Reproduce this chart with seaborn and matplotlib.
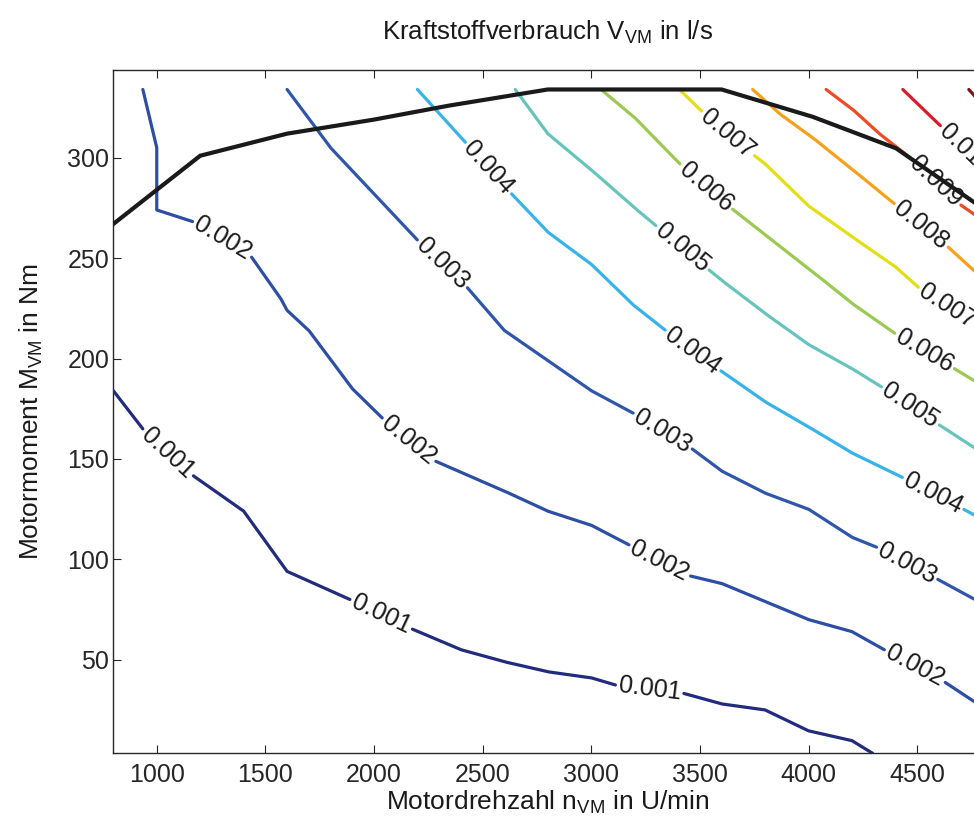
import numpy as np
import pandas as pd
import matplotlib
matplotlib.use("Agg")
import matplotlib.pyplot as plt
import seaborn as sns

# ---------------- data ----------------
levels = [0.001, 0.002, 0.003, 0.004, 0.005, 0.006, 0.007, 0.008, 0.009, 0.010, 0.011]

n_001 = [800, 950, 1150, 1400, 1600, 1910, 2160, 2400, 2600, 2800, 3000, 3140, 3400, 3600, 3800, 4000, 4200, 4295]
m_001 = [184, 163, 143, 124, 94, 79, 66, 55, 49, 44, 41, 36.5, 34, 28, 25, 14.6, 9.7, 3.4]

n_002 = [936, 1000, 1000, 1200, 1430, 1570, 1600, 1700, 1900, 2056, 2270, 2600, 2800, 3000, 3190, 3437, 3600, 3800, 4000, 4200, 4365, 4618, 4800]
m_002 = [334, 305, 274, 267, 251.5, 230, 224, 214, 185, 168.5, 149.5, 134, 124, 117, 106.3, 92.2, 88, 79, 70, 64, 54, 39.5, 26.5]

n_003 = [1600, 1800, 2000, 2209, 2424, 2600, 2800, 3000, 3207, 3452, 3600, 3800, 4000, 4200, 4326, 4587, 4800]
m_003 = [334, 305, 282, 258, 236, 214, 199, 184, 172, 156, 144, 133, 125, 111, 105.5, 90.5, 78]

n_004 = [2200, 2439, 2616, 2800, 3000, 3190, 3360, 3582, 3800, 4000, 4200, 4457, 4695, 4800]
m_004 = [334, 305.5, 284, 263, 247, 227, 212.5, 195, 178.5, 166, 153, 139.5, 126, 120]

n_005 = [2650, 2800, 3000, 3200, 3322, 3521, 3600, 3800, 4000, 4200, 4349, 4587, 4800]
m_005 = [334, 312, 294, 275, 264, 246, 239, 222.5, 207, 195, 185, 168, 153]

n_006 = [3045, 3200, 3345, 3421, 3636, 3850, 4045, 4200, 4418, 4656, 4800]
m_006 = [334, 320, 304, 295.5, 275.6, 257.4, 241, 227.5, 211, 196, 186.5]

n_007 = [3406, 3529, 3728, 3800, 4000, 4200, 4400, 4511, 4800]
m_007 = [334, 321, 303, 297, 276, 260.7, 245.7, 235, 215]

n_008 = [3743, 3866, 4019, 4204, 4403, 4633, 4800]
m_008 = [334, 322, 310, 294, 276.4, 256.5, 240]

n_009 = [4081, 4204, 4326, 4480, 4694, 4800]
m_009 = [334, 324, 312, 299, 277, 269]

n_010 = [4434, 4572, 4800]
m_010 = [334, 319.6, 296]

n_011 = [4738, 4800]
m_011 = [334, 326.5]

# full-load torque curve (black)
n_full = [800, 1200, 1600, 2000, 2347, 2800, 3600, 4019, 4403, 4800]
m_full = [267, 301, 312, 319, 326, 334, 334, 320.4, 304.7, 275]

# x-positions (rpm) of the inline contour labels
lab_001 = [1050, 2035, 3270]
lab_002 = [1305, 2160, 3315, 4490]
lab_003 = [2315, 3330, 4455]
lab_004 = [2527, 3470, 4575]
lab_005 = [3420, 4470]
lab_006 = [3530, 4535]
lab_007 = [3630, 4640]
lab_008 = [4520]
lab_009 = [4587]
lab_010 = [4700]
lab_011 = []

x_ticks = [1000, 1500, 2000, 2500, 3000, 3500, 4000, 4500]
y_ticks = [50, 100, 150, 200, 250, 300]

curves = [
    (n_001, m_001, lab_001), (n_002, m_002, lab_002), (n_003, m_003, lab_003),
    (n_004, m_004, lab_004), (n_005, m_005, lab_005), (n_006, m_006, lab_006),
    (n_007, m_007, lab_007), (n_008, m_008, lab_008), (n_009, m_009, lab_009),
    (n_010, m_010, lab_010), (n_011, m_011, lab_011),
]
colors = ['#222b7c', '#2d4ea5', '#3056ab', '#37b3e8', '#67c4bd', '#9bc952',
          '#e2df16', '#f6a01c', '#ef4a26', '#da1b2c', '#7e1416']

# ---------------- style ----------------
sns.set_theme(style="ticks")
plt.rcParams['font.family'] = ['Liberation Sans', 'DejaVu Sans']
plt.rcParams['mathtext.fontset'] = 'custom'
plt.rcParams['mathtext.rm'] = 'Liberation Sans'
plt.rcParams['mathtext.it'] = 'Liberation Sans:italic'
plt.rcParams['mathtext.bf'] = 'Liberation Sans:bold'

DPI = 100
fig = plt.figure(figsize=(9.74, 8.27), dpi=DPI)
ax = fig.add_axes([113.3 / 974, 73.7 / 827, 869 / 974, 683.3 / 827])
ax.set_xlim(800, 4800)
ax.set_ylim(3.4, 343.7)

LABEL_FS = 18
em_px = LABEL_FS * DPI / 72.0


def densify(xs, ys, step=0.5):
    pts = ax.transData.transform(np.column_stack([xs, ys]))
    out = [pts[0]]
    for a, b in zip(pts[:-1], pts[1:]):
        n = max(int(np.hypot(*(b - a)) / step), 1)
        t = np.linspace(0, 1, n + 1)[1:]
        out.extend(a + (b - a) * t[:, None])
    return np.array(out)


inv = ax.transData.inverted()
for lvl, (xs, ys, labs), col in zip(levels, curves, colors):
    d = densify(xs, ys)
    s = np.concatenate([[0], np.cumsum(np.hypot(*np.diff(d, axis=0).T))])
    keep = np.ones(len(d), bool)
    txt = f"{lvl:g}"
    width = (0.556 * (len(txt) - 1) + 0.278) * em_px
    half = width / 2 + 3
    for lx in labs:
        tx = ax.transData.transform((lx, 0))[0]
        idx = np.where((d[:-1, 0] <= tx) & (d[1:, 0] >= tx))[0]
        if len(idx) == 0:
            continue
        i = idx[0]
        s0 = s[i]
        p0 = np.array([np.interp(s0 - half, s, d[:, 0]), np.interp(s0 - half, s, d[:, 1])])
        p1 = np.array([np.interp(s0 + half, s, d[:, 0]), np.interp(s0 + half, s, d[:, 1])])
        ang = np.degrees(np.arctan2(p1[1] - p0[1], p1[0] - p0[0]))
        if ang > 90:
            ang -= 180
        if ang < -90:
            ang += 180
        keep &= np.abs(s - s0) > half
        cx, cy = inv.transform(d[i])
        ax.text(cx, cy, txt, rotation=ang, rotation_mode='anchor', ha='center', va='center',
                fontsize=LABEL_FS, color='#1a1a1a', zorder=4)
    # split into segments
    seg = np.cumsum(np.concatenate([[0], np.diff(keep.astype(int)) != 0]))
    dd = inv.transform(d)
    df = pd.DataFrame({'n': dd[:, 0], 'm': dd[:, 1], 'seg': seg})[keep]
    sns.lineplot(data=df, x='n', y='m', units='seg', estimator=None, sort=False,
                 color=col, linewidth=2.3, ax=ax, legend=False, zorder=3)

df_full = pd.DataFrame({'n': n_full, 'm': m_full})
sns.lineplot(data=df_full, x='n', y='m', estimator=None, sort=False, color='#1a1a1a',
             linewidth=3.0, ax=ax, legend=False, zorder=5)

ax.set_xlim(800, 4800)
ax.set_ylim(3.4, 343.7)
ax.set_xticks(x_ticks)
ax.set_yticks(y_ticks)
ax.tick_params(direction='in', length=6, width=0.8, top=True, right=True,
               labelsize=18, colors='#262626', pad=7)
ax.tick_params(axis='y', pad=3)
for sp in ax.spines.values():
    sp.set_visible(True)
    sp.set_color('#262626')
    sp.set_linewidth(1.0)

ax.set_xlabel(r"Motordrehzahl n$_{\mathrm{VM}}$ in U/min", fontsize=19, color='#1a1a1a', labelpad=1)
ax.set_ylabel(r"Motormoment M$_{\mathrm{VM}}$ in Nm", fontsize=19, color='#1a1a1a', labelpad=16)
ax.set_title(r"Kraftstoffverbrauch V$_{\mathrm{VM}}$ in l/s", fontsize=18.5, color='#1a1a1a', pad=22)

fig.savefig("out.png", dpi=DPI)
